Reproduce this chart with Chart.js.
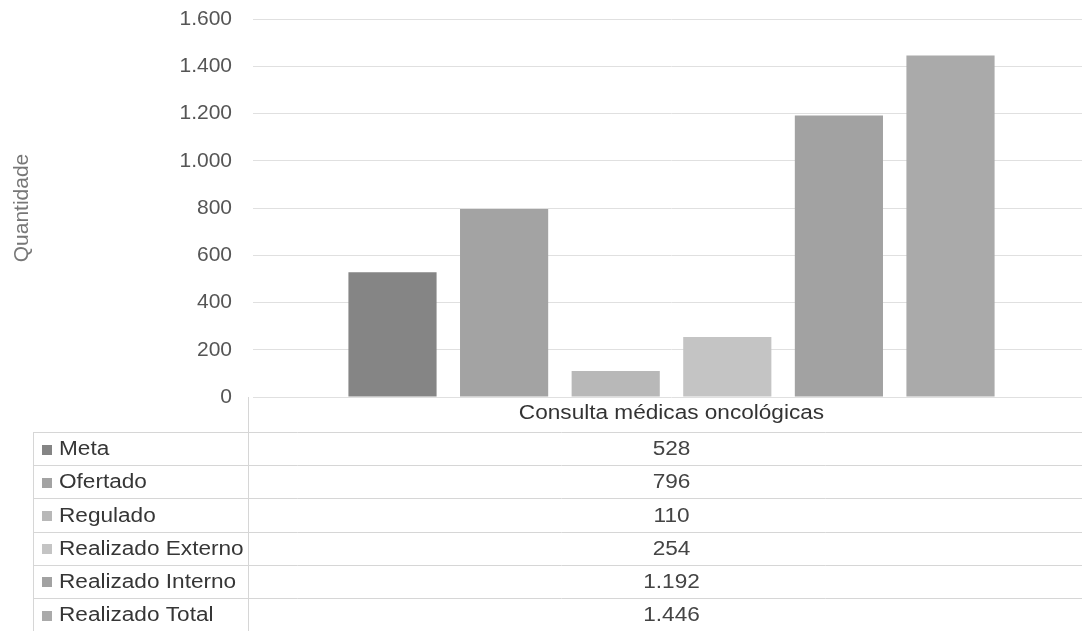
<!DOCTYPE html>
<html>
<head>
<meta charset="utf-8">
<script src="https://cdn.jsdelivr.net/npm/chart.js@4/dist/chart.umd.min.js"></script>
<style>
  html, body { margin: 0; padding: 0; background: #fff; overflow: hidden; }
</style>
</head>
<body>
<canvas id="chart" width="1090" height="631"></canvas>
<script>
// data
var categories = ['Consulta médicas oncológicas'];
var seriesNames = ['Meta', 'Ofertado', 'Regulado', 'Realizado Externo', 'Realizado Interno', 'Realizado Total'];
var seriesValues = [528, 796, 110, 254, 1192, 1446];
var yTicks = [0, 200, 400, 600, 800, 1000, 1200, 1400, 1600];

var seriesColors = ['#858585', '#a3a3a3', '#b8b8b8', '#c4c4c4', '#a2a2a2', '#aaaaaa'];
var fontFamily = '"Liberation Sans", Arial, sans-serif';
var stretch = 1.13; // the scan is a bit wide

function fmt(n) {
    return String(n).replace(/\B(?=(\d{3})+(?!\d))/g, '.');
}

function wideText(ctx, text, x, y) {
    ctx.save();
    ctx.translate(x, y);
    ctx.scale(stretch, 1);
    ctx.fillText(text, 0, 0);
    ctx.restore();
}

// excel style data table under the plot
var dataTable = {
    id: 'dataTable',
    afterDraw: function (chart) {
        var ctx = chart.ctx;
        var area = chart.chartArea;
        var xs = chart.scales.x;
        var top = area.bottom + 35;
        var rowH = 33.2;
        var left = 33;
        var right = chart.width;
        var n = chart.data.datasets.length;
        var bottom = top + n * rowH;
        var cx = xs.getPixelForValue(0);

        ctx.save();
        ctx.strokeStyle = '#d6d6d6';
        ctx.lineWidth = 1;
        ctx.beginPath();
        for (var i = 0; i <= n; i++) {
            var y = Math.round(top + i * rowH) + 0.5;
            ctx.moveTo(left, y);
            ctx.lineTo(right, y);
        }
        ctx.moveTo(left + 0.5, top);
        ctx.lineTo(left + 0.5, bottom);
        ctx.moveTo(Math.round(area.left) - 4.5, area.bottom);
        ctx.lineTo(Math.round(area.left) - 4.5, bottom);
        ctx.stroke();

        ctx.font = '20px ' + fontFamily;
        ctx.textBaseline = 'middle';

        // category label of the header row
        ctx.fillStyle = '#333333';
        ctx.textAlign = 'center';
        wideText(ctx, chart.data.labels[0], cx, area.bottom + 16);

        chart.data.datasets.forEach(function (ds, i) {
            var cy = top + (i + 0.5) * rowH + 1;
            ctx.fillStyle = ds.backgroundColor;
            ctx.fillRect(42, Math.round(cy - 5), 10, 10);
            ctx.fillStyle = '#363636';
            ctx.textAlign = 'left';
            wideText(ctx, ds.label, 59, cy);
            ctx.fillStyle = '#444444';
            ctx.textAlign = 'center';
            wideText(ctx, fmt(ds.data[0]), cx, cy);
        });
        ctx.restore();
    }
};

var datasets = seriesNames.map(function (name, i) {
    return {
        label: name,
        data: [seriesValues[i]],
        backgroundColor: seriesColors[i],
        borderWidth: 0
    };
});

var ctx = document.getElementById('chart').getContext('2d');
var chart = new Chart(ctx, {
    type: 'bar',
    data: {
        labels: categories,
        datasets: datasets
    },
    plugins: [dataTable],
    options: {
        responsive: false,
        animation: false,
        layout: {
            autoPadding: false,
            padding: { top: 19, left: 0, right: 0, bottom: 234 }
        },
        datasets: {
            bar: { categoryPercentage: 0.80, barPercentage: 0.79 }
        },
        plugins: {
            legend: { display: false },
            tooltip: { enabled: false }
        },
        scales: {
            x: {
                grid: { display: false, drawTicks: false },
                border: { display: false },
                ticks: { display: false }
            },
            y: {
                min: 0,
                max: 1600,
                afterBuildTicks: function (scale) {
                    scale.ticks = yTicks.map(function (v) { return { value: v }; });
                },
                grid: { color: '#e0e0e0', drawTicks: false },
                border: { display: false },
                ticks: {
                    padding: 21,
                    color: '#555555',
                    font: { family: fontFamily, size: 21 },
                    callback: function (v) { return fmt(v); }
                },
                title: {
                    display: true,
                    text: 'Quantidade',
                    color: '#777777',
                    padding: { top: 10, bottom: 0 },
                    font: { family: fontFamily, size: 21 }
                },
                afterFit: function (scale) {
                    scale.width = 253;
                    scale.paddingTop = 0;
                    scale.paddingBottom = 0;
                }
            }
        }
    }
});
</script>
</body>
</html>
